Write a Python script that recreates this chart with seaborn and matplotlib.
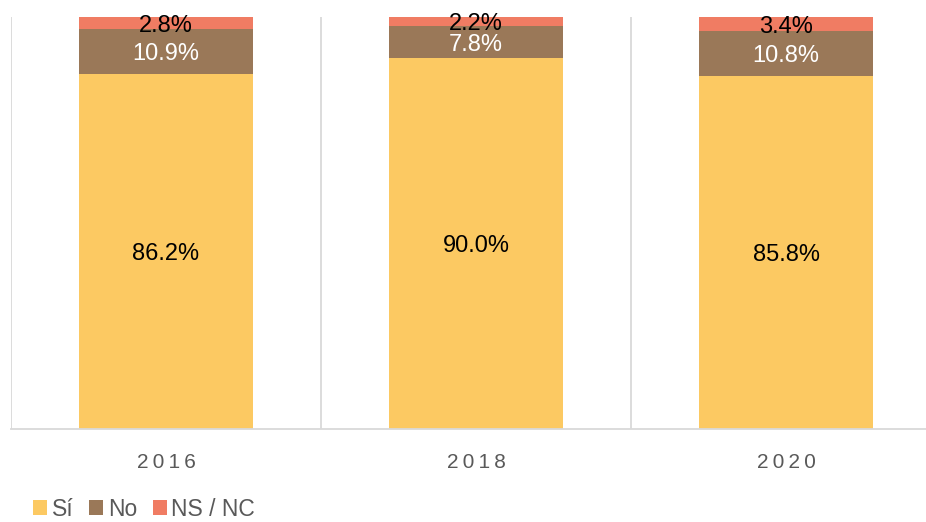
import numpy as np
import pandas as pd
import seaborn as sns
import matplotlib.pyplot as plt
from matplotlib.patches import Patch

# datos
anios = ["2016", "2018", "2020"]
si = [86.2, 90.0, 85.8]
no = [10.9, 7.8, 10.8]
nsnc = [2.8, 2.2, 3.4]
series = ["Sí", "No", "NS / NC"]
colores = ["#FCC962", "#9A7858", "#F07C63"]
color_texto = ["black", "white", "black"]

sns.set_theme(style="white")
plt.rcParams['font.family'] = ['Liberation Sans', 'DejaVu Sans']

df = pd.DataFrame({"anio": anios, "Sí": si, "No": no, "NS / NC": nsnc})
acum = df[series].cumsum(axis=1)

fig = plt.figure(figsize=(9.26, 5.22), dpi=100)
ax = fig.add_axes([11 / 926, 93 / 522, 930 / 926, 412 / 522])

# barras apiladas: se dibuja de la cima hacia abajo
for s, c in reversed(list(zip(series, colores))):
    sns.barplot(x=df["anio"], y=acum[s], color=c, width=0.56, ax=ax,
                saturation=1, linewidth=0)

# etiquetas centradas en cada segmento
for i in range(len(anios)):
    base = 0
    for s, tc in zip(series, color_texto):
        v = df.loc[i, s]
        ax.text(i, base + v / 2, f"{v:.1f}%", ha="center", va="center_baseline",
                fontsize=17, color=tc)
        base += v

ax.set_xlim(-0.5, 2.5)
ax.set_ylim(0, 100)
ax.set_yticks([])
ax.set_xlabel("")
ax.set_ylabel("")
ax.set_xticks(range(len(anios)))
ax.set_xticklabels(["\u2009".join(a) for a in anios], color="#595959", fontsize=15)
ax.tick_params(axis="x", length=0, pad=17)
for xb in [-0.5, 0.5, 1.5, 2.5]:
    ax.axvline(xb, color="#d9d9d9", lw=1.3, zorder=0)
for sp in ["top", "right", "left"]:
    ax.spines[sp].set_visible(False)
ax.spines["bottom"].set_color("#d9d9d9")
ax.spines["bottom"].set_linewidth(1.3)

handles = [Patch(facecolor=c, edgecolor="none") for c in colores]
leg = fig.legend(handles, series, loc="center left", bbox_to_anchor=(22 / 926, 13 / 522),
                 ncol=3, frameon=False, fontsize=16.5, handlelength=0.6, handleheight=0.6,
                 handletextpad=0.2, columnspacing=0.7, labelcolor="#595959",
                 borderpad=0)

fig.savefig("out.png", dpi=100)
